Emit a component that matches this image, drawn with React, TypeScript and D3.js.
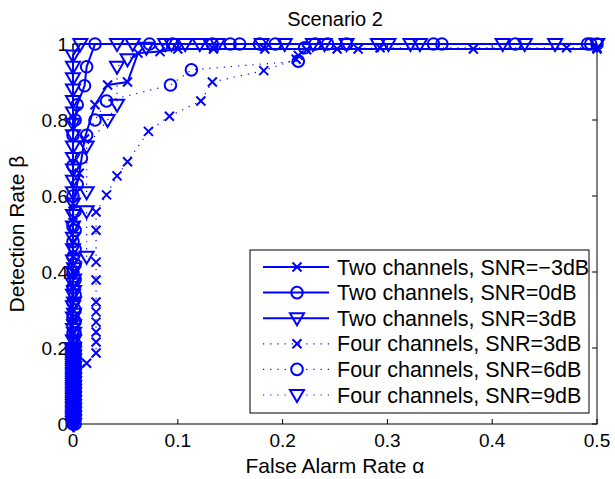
import React, { useEffect, useRef } from 'react';
import * as d3 from 'd3';

// tick values / labels
const xTicks = [0, 0.1, 0.2, 0.3, 0.4, 0.5];
const yTicks = [0, 0.2, 0.4, 0.6, 0.8, 1];
const xTickLabels = ['0', '0.1', '0.2', '0.3', '0.4', '0.5'];
const yTickLabels = ['0', '0.2', '0.4', '0.6', '0.8', '1'];

// Two channels, SNR=-3dB
const twoM3Alpha = [0, 0, 0, 0, 0, 0, 0, 0, 0, 0, 0, 0, 0, 0, 0, 0, 0, 0, 0, 0, 0, 0, 0, 0, 0, 0, 0, 0, 0, 0,
  0.006, 0.011, 0.021, 0.033, 0.052, 0.062, 0.083, 0.1, 0.134, 0.183, 0.272, 0.382, 0.5];
const twoM3Beta = [0, 0.01, 0.02, 0.03, 0.04, 0.05, 0.06, 0.07, 0.08, 0.09, 0.1, 0.11, 0.12, 0.13, 0.14, 0.15, 0.16, 0.17, 0.18, 0.19, 0.21,
  0.24, 0.28, 0.32, 0.36, 0.4, 0.44, 0.48, 0.53, 0.58,
  0.66, 0.75, 0.84, 0.892, 0.9, 0.976, 0.98, 0.987, 0.987, 0.987, 0.987, 0.987, 0.987];

// Two channels, SNR=0dB
const two0Alpha = [0, 0, 0, 0, 0, 0, 0, 0, 0, 0, 0, 0, 0, 0, 0, 0, 0, 0, 0, 0, 0, 0, 0, 0, 0, 0, 0, 0, 0, 0, 0, 0,
  0.002, 0.004, 0.011, 0.013, 0.021, 0.073, 0.095, 0.133, 0.15, 0.159, 0.178, 0.193, 0.231, 0.261, 0.352, 0.491, 0.5];
const two0Beta = [0, 0.005, 0.015, 0.025, 0.035, 0.045, 0.055, 0.065, 0.075, 0.085, 0.095, 0.105, 0.115, 0.125, 0.135, 0.145, 0.155, 0.165, 0.175, 0.185, 0.2,
  0.24, 0.28, 0.32, 0.36, 0.4, 0.44, 0.48, 0.52, 0.6, 0.68, 0.76,
  0.8, 0.84, 0.89, 0.94, 1, 1, 1, 1, 1, 1, 1, 1, 1, 1, 1, 1, 1];

// Two channels, SNR=3dB
const two3Alpha = [0, 0, 0, 0, 0, 0, 0, 0, 0, 0, 0, 0, 0, 0, 0, 0, 0, 0, 0, 0, 0, 0, 0, 0, 0, 0, 0, 0, 0, 0,
  0, 0, 0, 0, 0, 0, 0, 0, 0, 0, 0, 0, 0, 0, 0, 0, 0, 0, 0, 0, 0, 0, 0, 0, 0, 0, 0, 0, 0, 0, 0, 0, 0, 0, 0, 0, 0,
  0.007, 0.042, 0.057, 0.088, 0.107, 0.121, 0.138, 0.18, 0.202, 0.24, 0.261, 0.291, 0.322, 0.41, 0.46, 0.5];
const two3Beta = [0, 0.005, 0.01, 0.015, 0.02, 0.025, 0.03, 0.035, 0.04, 0.045, 0.05, 0.055, 0.06, 0.065, 0.07, 0.075, 0.08, 0.085, 0.09, 0.095,
  0.1, 0.105, 0.11, 0.115, 0.12, 0.125, 0.13, 0.135, 0.14, 0.145, 0.15, 0.155, 0.16, 0.165, 0.17, 0.175, 0.18, 0.185, 0.19, 0.195, 0.2,
  0.22, 0.25, 0.28, 0.31, 0.34, 0.37, 0.4, 0.43, 0.46, 0.49, 0.52, 0.55, 0.58, 0.61, 0.64, 0.67, 0.7, 0.73, 0.76, 0.79, 0.82, 0.85, 0.88, 0.91, 0.94, 0.97,
  1, 1, 1, 1, 1, 1, 1, 1, 1, 1, 1, 1, 1, 1, 1, 1];

// Four channels, SNR=3dB
const four3Alpha = [0, 0, 0, 0, 0, 0, 0, 0, 0, 0, 0, 0, 0, 0, 0.013,
  0.022, 0.022, 0.022, 0.022, 0.022, 0.022, 0.022, 0.022, 0.022, 0.022,
  0.032, 0.042, 0.052, 0.072, 0.092, 0.122, 0.133, 0.182, 0.213, 0.215, 0.223, 0.252, 0.293, 0.471, 0.5];
const four3Beta = [0, 0.01, 0.02, 0.03, 0.04, 0.05, 0.06, 0.07, 0.08, 0.09, 0.1, 0.11, 0.12, 0.14, 0.16,
  0.187, 0.216, 0.242, 0.268, 0.295, 0.321, 0.379, 0.426, 0.51, 0.558,
  0.603, 0.653, 0.69, 0.77, 0.81, 0.85, 0.9, 0.93, 0.96, 0.97, 0.985, 0.987, 0.99, 0.99, 0.99];

// Four channels, SNR=6dB
const four6Alpha = [0.002, 0.002, 0.002, 0.002, 0.002, 0.002, 0.002, 0.002, 0.002, 0.002, 0.002, 0.002, 0.002, 0.002, 0.002, 0.002,
  0.002, 0.002, 0.002, 0.002, 0.002, 0.002, 0.002, 0.002, 0.002, 0.002,
  0.004, 0.008, 0.013, 0.021, 0.032, 0.093, 0.113, 0.215, 0.221, 0.243, 0.344, 0.422, 0.494];
const four6Beta = [0, 0.012, 0.025, 0.037, 0.05, 0.062, 0.075, 0.087, 0.1, 0.112, 0.125, 0.137, 0.15, 0.162, 0.175, 0.19,
  0.21, 0.24, 0.27, 0.3, 0.34, 0.38, 0.42, 0.46, 0.51, 0.56,
  0.63, 0.7, 0.76, 0.8, 0.85, 0.892, 0.932, 0.955, 0.99, 1, 1, 1, 1];

// Four channels, SNR=9dB
const four9Alpha = [0.001, 0.001, 0.001, 0.001, 0.001, 0.001, 0.001, 0.001, 0.001, 0.001, 0.001, 0.001, 0.001, 0.001, 0.001, 0.001, 0.001, 0.001, 0.001, 0.001, 0.001,
  0.001, 0.001, 0.001, 0.001, 0.001, 0.001, 0.001, 0.001,
  0.013, 0.013, 0.013, 0.013, 0.033, 0.042, 0.042, 0.052, 0.07, 0.094, 0.131, 0.229, 0.301, 0.331, 0.431, 0.5];
const four9Beta = [0, 0.01, 0.02, 0.03, 0.04, 0.05, 0.06, 0.07, 0.08, 0.09, 0.1, 0.11, 0.12, 0.13, 0.14, 0.15, 0.16, 0.17, 0.18, 0.19, 0.2,
  0.22, 0.24, 0.26, 0.29, 0.32, 0.35, 0.38, 0.41,
  0.44, 0.56, 0.61, 0.73, 0.8, 0.84, 0.94, 0.96, 0.99, 1, 1, 1, 1, 1, 1, 1];

const legendLabels = [
  'Two channels, SNR=\u22123dB',
  'Two channels, SNR=0dB',
  'Two channels, SNR=3dB',
  'Four channels, SNR=3dB',
  'Four channels, SNR=6dB',
  'Four channels, SNR=9dB',
];

type Marker = 'x' | 'o' | 'v';

const seriesList: { alpha: number[]; beta: number[]; marker: Marker; dotted: boolean }[] = [
  { alpha: twoM3Alpha, beta: twoM3Beta, marker: 'x', dotted: false },
  { alpha: two0Alpha, beta: two0Beta, marker: 'o', dotted: false },
  { alpha: two3Alpha, beta: two3Beta, marker: 'v', dotted: false },
  { alpha: four3Alpha, beta: four3Beta, marker: 'x', dotted: true },
  { alpha: four6Alpha, beta: four6Beta, marker: 'o', dotted: true },
  { alpha: four9Alpha, beta: four9Beta, marker: 'v', dotted: true },
];

const BLUE = '#0000ff';
const FONT = 'Liberation Sans, Arial, Helvetica, sans-serif';

const markerPath = (m: Marker) => {
  if (m === 'x') return 'M-4.5,-4.5L4.5,4.5M-4.5,4.5L4.5,-4.5';
  if (m === 'v') return 'M-7,-5L7,-5L0,7Z';
  return d3.arc()({ innerRadius: 0, outerRadius: 5.8, startAngle: 0, endAngle: Math.PI * 2 }) as string;
};

const App: React.FC = () => {
  const svgRef = useRef<SVGSVGElement>(null);

  useEffect(() => {
    if (!svgRef.current) return;
    const width = 615;
    const height = 479;
    const margin = { top: 44, right: 18, bottom: 55, left: 73 };
    const innerWidth = width - margin.left - margin.right;
    const innerHeight = height - margin.top - margin.bottom;

    const svg = d3.select(svgRef.current);
    svg.selectAll('*').remove();
    svg.attr('width', width).attr('height', height);

    svg.append('rect').attr('width', width).attr('height', height).attr('fill', '#ffffff');

    const g = svg.append('g').attr('transform', `translate(${margin.left},${margin.top})`);

    const xScale = d3.scaleLinear().domain([0, 0.5]).range([0, innerWidth]);
    const yScale = d3.scaleLinear().domain([0, 1]).range([innerHeight, 0]);

    // axes box
    g.append('rect')
      .attr('width', innerWidth)
      .attr('height', innerHeight)
      .attr('fill', 'none')
      .attr('stroke', '#000')
      .attr('stroke-width', 1);

    // inward ticks on all four sides
    const tl = 5;
    xTicks.forEach(t => {
      const x = xScale(t);
      g.append('line').attr('x1', x).attr('x2', x).attr('y1', innerHeight).attr('y2', innerHeight - tl).attr('stroke', '#000');
      g.append('line').attr('x1', x).attr('x2', x).attr('y1', 0).attr('y2', tl).attr('stroke', '#000');
    });
    yTicks.forEach(t => {
      const y = yScale(t);
      g.append('line').attr('x1', 0).attr('x2', tl).attr('y1', y).attr('y2', y).attr('stroke', '#000');
      g.append('line').attr('x1', innerWidth).attr('x2', innerWidth - tl).attr('y1', y).attr('y2', y).attr('stroke', '#000');
    });

    g.selectAll('.xlab')
      .data(xTicks)
      .enter()
      .append('text')
      .attr('x', d => xScale(d))
      .attr('y', innerHeight + 23)
      .attr('text-anchor', 'middle')
      .style('font-family', FONT)
      .style('font-size', '19px')
      .text((d, i) => xTickLabels[i]);

    g.selectAll('.ylab')
      .data(yTicks)
      .enter()
      .append('text')
      .attr('x', -5)
      .attr('y', d => yScale(d) + 7)
      .attr('text-anchor', 'end')
      .style('font-family', FONT)
      .style('font-size', '19px')
      .text((d, i) => yTickLabels[i]);

    // series lines + markers
    const line = d3.line<[number, number]>()
      .x(d => xScale(d[0]))
      .y(d => yScale(d[1]));

    seriesList.forEach(s => {
      const pts: [number, number][] = s.alpha.map((a, i) => [a, s.beta[i]]);
      g.append('path')
        .datum(pts)
        .attr('fill', 'none')
        .attr('stroke', BLUE)
        .attr('stroke-width', s.dotted ? 1.2 : 2)
        .attr('stroke-dasharray', s.dotted ? '1.2,6' : null)
        .attr('d', line);

      g.selectAll(null)
        .data(pts)
        .enter()
        .append('path')
        .attr('transform', d => `translate(${xScale(d[0])},${yScale(d[1])})`)
        .attr('d', markerPath(s.marker))
        .attr('fill', 'none')
        .attr('stroke', BLUE)
        .attr('stroke-width', 2);
    });

    // legend
    const lx = 250, ly = 250, lw = 339, lh = 163;
    const legend = svg.append('g');
    legend.append('rect')
      .attr('x', lx).attr('y', ly).attr('width', lw).attr('height', lh)
      .attr('fill', '#ffffff').attr('stroke', '#000').attr('stroke-width', 1);

    seriesList.forEach((s, i) => {
      const y = 267 + i * 25.6;
      legend.append('line')
        .attr('x1', 263).attr('x2', 329).attr('y1', y).attr('y2', y)
        .attr('stroke', BLUE)
        .attr('stroke-width', s.dotted ? 1.2 : 2)
        .attr('stroke-dasharray', s.dotted ? '1.2,6' : null);
      legend.append('path')
        .attr('transform', `translate(297,${y})`)
        .attr('d', markerPath(s.marker))
        .attr('fill', s.dotted ? '#fff' : 'none')
        .attr('stroke', BLUE)
        .attr('stroke-width', 2);
      legend.append('text')
        .attr('x', 337)
        .attr('y', y + 7.5)
        .style('font-family', FONT)
        .style('font-size', '21.5px')
        .text(legendLabels[i]);
    });

    // title and axis labels
    svg.append('text')
      .attr('x', margin.left + innerWidth / 2)
      .attr('y', 26)
      .attr('text-anchor', 'middle')
      .style('font-family', FONT)
      .style('font-size', '20px')
      .text('Scenario 2');

    svg.append('text')
      .attr('x', margin.left + innerWidth / 2)
      .attr('y', 473)
      .attr('text-anchor', 'middle')
      .style('font-family', FONT)
      .style('font-size', '21px')
      .text('False Alarm Rate \u03b1');

    svg.append('text')
      .attr('transform', 'rotate(-90)')
      .attr('x', -(margin.top + innerHeight / 2))
      .attr('y', 24)
      .attr('text-anchor', 'middle')
      .style('font-family', FONT)
      .style('font-size', '21px')
      .text('Detection Rate \u03b2');
  }, []);

  return (
    <svg ref={svgRef} style={{ position: 'absolute', left: 0, top: 0, display: 'block' }}></svg>
  );
};

export default App;
